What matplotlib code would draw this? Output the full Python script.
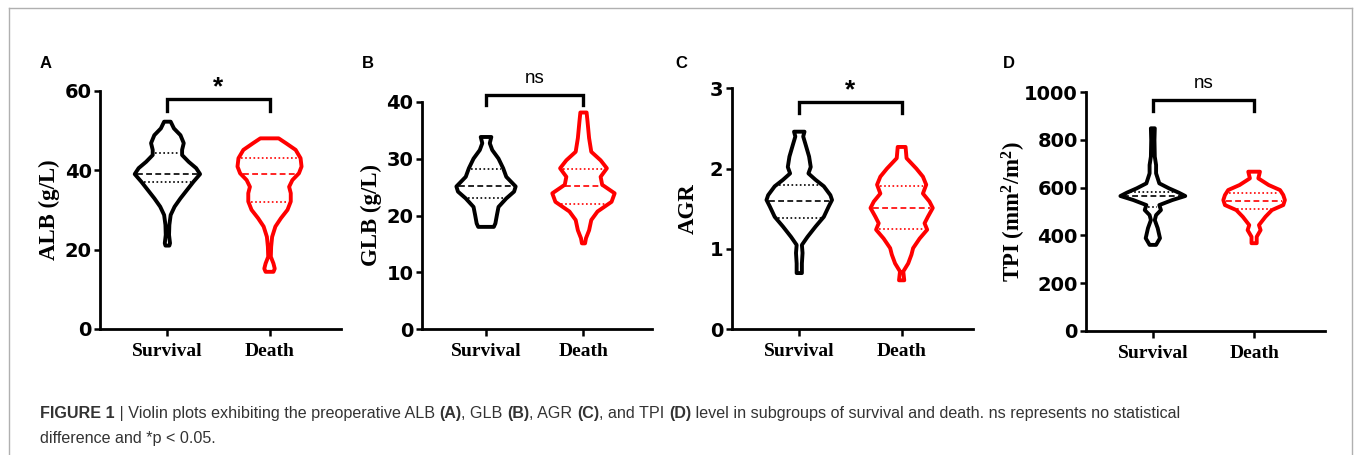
import matplotlib
matplotlib.use("Agg")
import matplotlib.pyplot as plt
from matplotlib.lines import Line2D
import numpy as np

plt.rcParams["mathtext.fontset"] = "custom"
plt.rcParams["mathtext.rm"] = "Liberation Serif:bold"
plt.rcParams["mathtext.bf"] = "Liberation Serif:bold"
plt.rcParams["mathtext.it"] = "Liberation Serif:bold"

groups = ["Survival", "Death"]
colors = ["black", "#ff0000"]

# violin outlines: y values and relative half widths
alb_surv_y = [52.2, 50.5, 48.8, 46.8, 45.1, 43.8, 42.1, 40.5, 39.0, 37.1, 35.0, 32.9, 30.8, 28.7, 26.2, 23.7, 21.6, 21.0]
alb_surv_w = [0.10, 0.20, 0.40, 0.50, 0.45, 0.45, 0.65, 0.88, 1.00, 0.80, 0.60, 0.40, 0.22, 0.10, 0.06, 0.05, 0.08, 0.06]
alb_death_y = [48.0, 46.8, 45.1, 43.0, 40.9, 39.2, 37.5, 35.8, 34.2, 32.1, 30.0, 27.9, 25.8, 23.2, 20.7, 18.2, 16.5, 15.2, 14.4]
alb_death_w = [0.28, 0.50, 0.80, 0.95, 0.98, 0.90, 0.70, 0.60, 0.65, 0.65, 0.55, 0.35, 0.18, 0.08, 0.05, 0.04, 0.12, 0.16, 0.12]

glb_surv_y = [33.8, 32.7, 31.5, 30.0, 28.3, 26.8, 25.1, 24.2, 23.0, 21.5, 20.1, 18.6, 18.0]
glb_surv_w = [0.17, 0.12, 0.20, 0.40, 0.55, 0.65, 0.95, 0.90, 0.65, 0.40, 0.35, 0.30, 0.25]
glb_death_y = [38.1, 36.5, 33.6, 31.2, 29.7, 28.3, 26.8, 25.4, 23.9, 22.4, 20.7, 19.2, 17.4, 16.0, 15.1]
glb_death_w = [0.10, 0.13, 0.18, 0.25, 0.55, 0.75, 0.55, 0.60, 1.00, 0.90, 0.45, 0.25, 0.18, 0.08, 0.05]

agr_surv_y = [2.46, 2.40, 2.29, 2.15, 2.02, 1.94, 1.86, 1.78, 1.67, 1.61, 1.53, 1.40, 1.28, 1.15, 1.05, 0.95, 0.82, 0.70]
agr_surv_w = [0.16, 0.12, 0.20, 0.30, 0.35, 0.28, 0.50, 0.75, 0.95, 1.00, 0.90, 0.75, 0.50, 0.25, 0.08, 0.10, 0.08, 0.08]
agr_death_y = [2.27, 2.13, 2.00, 1.90, 1.80, 1.69, 1.59, 1.51, 1.40, 1.32, 1.24, 1.13, 1.01, 0.93, 0.82, 0.72, 0.61]
agr_death_w = [0.12, 0.15, 0.45, 0.65, 0.75, 0.65, 0.85, 0.95, 0.80, 0.70, 0.78, 0.55, 0.35, 0.30, 0.20, 0.05, 0.08]

tpi_surv_y = [849, 800, 730, 695, 660, 618, 597, 579, 565, 548, 527, 506, 485, 464, 430, 388, 360]
tpi_surv_w = [0.06, 0.05, 0.06, 0.10, 0.10, 0.20, 0.50, 0.80, 1.00, 0.60, 0.20, 0.25, 0.10, 0.06, 0.15, 0.22, 0.10]
tpi_death_y = [667, 639, 611, 590, 569, 548, 527, 506, 478, 443, 422, 394, 367]
tpi_death_w = [0.18, 0.13, 0.45, 0.80, 0.90, 0.95, 0.90, 0.55, 0.35, 0.15, 0.20, 0.08, 0.08]

# quartiles (q1, median, q3)
alb_q = [[37.0, 39.0, 44.2], [32.1, 39.0, 43.0]]
glb_q = [[23.0, 25.1, 28.1], [22.0, 25.1, 28.1]]
agr_q = [[1.39, 1.60, 1.80], [1.25, 1.51, 1.78]]
tpi_q = [[520, 565, 580], [509, 543, 579]]

letters = ["A", "B", "C", "D"]
ylabels = ["ALB (g/L)", "GLB (g/L)", "AGR", r"TPI (mm$^{2}$/m$^{2}$)"]
ymax = [60, 40, 3, 1000]
yticks = [[0, 20, 40, 60], [0, 10, 20, 30, 40], [0, 1, 2, 3], [0, 200, 400, 600, 800, 1000]]
sig = ["*", "ns", "*", "ns"]
bracket = [(57.8, 54.9), (41.2, 39.4), (2.83, 2.69), (968, 923)]

W, H = 1355, 455
fig = plt.figure(figsize=(W / 100, H / 100), dpi=100)

# pixel boxes: left, top, right, bottom
boxes = [(100, 90.7, 341, 329), (421.7, 101.7, 651.7, 329.3),
         (731.7, 88.3, 973.3, 329.3), (1086, 92.3, 1325, 330.7)]
label_off = [51, 50, 43, 72]
letter_x = [40, 362, 675, 1003]

panels = [
    ((alb_surv_y, alb_surv_w), (alb_death_y, alb_death_w), alb_q),
    ((glb_surv_y, glb_surv_w), (glb_death_y, glb_death_w), glb_q),
    ((agr_surv_y, agr_surv_w), (agr_death_y, agr_death_w), agr_q),
    ((tpi_surv_y, tpi_surv_w), (tpi_death_y, tpi_death_w), tpi_q),
]

HALF = 0.32


def violin(ax, pos, y, w, q, color):
    y = np.asarray(y, float)
    hw = np.asarray(w, float) * HALF
    xs = np.concatenate([pos - hw, (pos + hw)[::-1]])
    ys = np.concatenate([y, y[::-1]])
    ax.fill(xs, ys, facecolor="white", edgecolor=color, lw=2.8,
            joinstyle="round", zorder=3, clip_on=False)
    for val, ls in zip(q, [(0, (1, 1.5)), (0, (3.5, 2)), (0, (1, 1.5))]):
        h = np.interp(val, y[::-1], hw[::-1]) - 0.025
        ax.plot([pos - h, pos + h], [val, val], color=color, ls=ls,
                lw=1.2, zorder=4, clip_on=False)


for i, (l, t, r, b) in enumerate(boxes):
    ax = fig.add_axes([l / W, 1 - b / H, (r - l) / W, (b - t) / H])
    surv, death, q = panels[i]
    violin(ax, 0, surv[0], surv[1], q[0], colors[0])
    violin(ax, 1, death[0], death[1], q[1], colors[1])

    ax.set_xlim(-0.66, 1.7)
    ax.set_ylim(0, ymax[i])
    ax.set_yticks(yticks[i])
    ax.set_xticks([0, 1])
    ax.set_xticklabels(groups, family="Liberation Serif", fontweight="bold", fontsize=14)
    for lab in ax.get_yticklabels():
        lab.set_family("DejaVu Sans")
        lab.set_fontweight("bold")
        lab.set_fontsize(14)
    ax.spines["top"].set_visible(False)
    ax.spines["right"].set_visible(False)
    for s in ("left", "bottom"):
        ax.spines[s].set_linewidth(2)
    ax.tick_params(axis="y", length=4.5, width=1.8, pad=1.5)
    ax.tick_params(axis="x", length=5, width=1.8, pad=5)

    ax.set_ylabel(ylabels[i], family="Liberation Serif", fontweight="bold",
                  fontsize=16.5, va="center")
    ax.yaxis.set_label_coords(-label_off[i] / (r - l), 0.5)

    top, end = bracket[i]
    ax.plot([0, 0, 1, 1], [end, top, top, end], color="black", lw=2.4,
            solid_joinstyle="miter", clip_on=False)
    if sig[i] == "*":
        ax.annotate("*", (0.5, top), xytext=(0, 0), textcoords="offset points",
                    ha="center", va="bottom", fontsize=19, fontweight="bold",
                    family="Liberation Sans", annotation_clip=False)
    else:
        ax.annotate("ns", (0.5, top), xytext=(0, 6), textcoords="offset points",
                    ha="center", va="bottom", fontsize=13.5,
                    family="Liberation Sans", annotation_clip=False)

    fig.text(letter_x[i] / W, 1 - 64 / H, letters[i], ha="left", va="center",
             fontsize=12, fontweight="bold", family="Liberation Sans")

# border around the figure
gray = "#b0b0b0"
fig.add_artist(Line2D([9 / W, 1352 / W], [1 - 8 / H, 1 - 8 / H], color=gray, lw=1))
fig.add_artist(Line2D([9 / W, 9 / W], [0, 1 - 8 / H], color=gray, lw=1))
fig.add_artist(Line2D([1352 / W, 1352 / W], [0, 1 - 8 / H], color=gray, lw=1))

# caption
cap_color = "#333333"
cap_size = 11.6
line1 = [("FIGURE 1", "bold"), (" | Violin plots exhibiting the preoperative ALB ", "normal"),
         ("(A)", "bold"), (", GLB ", "normal"), ("(B)", "bold"), (", AGR ", "normal"),
         ("(C)", "bold"), (", and TPI ", "normal"), ("(D)", "bold"),
         (" level in subgroups of survival and death. ns represents no statistical", "normal")]
last = None
for txt, wt in line1:
    if last is None:
        last = fig.text(40 / W, 1 - 421 / H, txt, fontsize=cap_size, fontweight=wt,
                        family="Liberation Sans", color=cap_color, va="bottom", ha="left")
    else:
        last = fig.axes[0].annotate(txt, xy=(1, 0), xycoords=last, va="bottom", ha="left",
                                    fontsize=cap_size, fontweight=wt, family="Liberation Sans",
                                    color=cap_color, annotation_clip=False)
fig.text(40 / W, 1 - 446 / H, "difference and *p < 0.05.", fontsize=cap_size,
         family="Liberation Sans", color=cap_color, va="bottom", ha="left")

fig.savefig("out.png", dpi=100)
